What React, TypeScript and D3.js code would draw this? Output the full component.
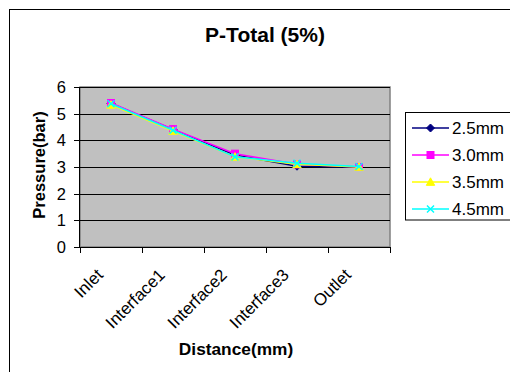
import React from "react";
import * as d3 from "d3";

const categories = ["Inlet", "Interface1", "Interface2", "Interface3", "Outlet"];
const seriesNames = ["2.5mm", "3.0mm", "3.5mm", "4.5mm"];
const s25 = [5.38, 4.4, 3.45, 3.03, 3.0];
const s30 = [5.4, 4.42, 3.5, 3.1, 3.0];
const s35 = [5.33, 4.35, 3.38, 3.1, 3.0];
const s45 = [5.37, 4.38, 3.38, 3.14, 3.02];
const yTicks = [0, 1, 2, 3, 4, 5, 6];

const colors = ["#000080", "#FF00FF", "#FFFF00", "#00FFFF"];
const markerTypes = ["diamond", "square", "triangle", "x"];

const W = 510;
const H = 372;
const plot = { left: 80, right: 390, top: 87, bottom: 247 };
const FONT = "Arial, 'Liberation Sans', Helvetica, sans-serif";

function Marker({ type, x, y, color }: { type: string; x: number; y: number; color: string }) {
  if (type === "diamond") {
    const r = 4;
    return <path d={`M${x},${y - r}L${x + r},${y}L${x},${y + r}L${x - r},${y}Z`} fill={color} stroke={color} strokeWidth={1} />;
  }
  if (type === "square") {
    const r = 3.5;
    return <rect x={x - r} y={y - r} width={2 * r} height={2 * r} fill={color} stroke={color} strokeWidth={1} />;
  }
  if (type === "triangle") {
    const r = 4.2;
    return <path d={`M${x},${y - r}L${x + r},${y + r * 0.8}L${x - r},${y + r * 0.8}Z`} fill={color} stroke={color} strokeWidth={1} />;
  }
  const r = 3.5;
  return (
    <path d={`M${x - r},${y - r}L${x + r},${y + r}M${x + r},${y - r}L${x - r},${y + r}`} stroke={color} strokeWidth={1.5} fill="none" />
  );
}

export default function App() {
  const series = [s25, s30, s35, s45];
  const x = d3.scaleBand<string>().domain(categories).range([plot.left, plot.right]);
  const y = d3.scaleLinear().domain([0, 6]).range([plot.bottom, plot.top]);
  const cx = (c: string) => (x(c) as number) + x.bandwidth() / 2;
  const line = d3
    .line<number>()
    .x((_, i) => cx(categories[i]))
    .y((d) => y(d));

  const edges = categories.map((c) => x(c) as number).concat([plot.right]);

  return (
    <svg width={W} height={H} style={{ position: "absolute", left: 0, top: 0, background: "#fff" }} fontFamily={FONT}>
      <rect x={0} y={0} width={W} height={H} fill="#fff" />
      <rect x={9.5} y={9.5} width={700} height={600} fill="none" stroke="#000" strokeWidth={1} />
      <text x={265} y={42} textAnchor="middle" fontSize={21} fontWeight="bold">
        P-Total (5%)
      </text>

      {/* plot area */}
      <rect x={plot.left} y={plot.top} width={plot.right - plot.left} height={plot.bottom - plot.top} fill="#C0C0C0" stroke="#808080" strokeWidth={1.5} />
      {yTicks.slice(1).map((t) => (
        <line key={t} x1={plot.left} x2={plot.right} y1={Math.round(y(t)) + 0.5} y2={Math.round(y(t)) + 0.5} stroke="#000" strokeWidth={1} />
      ))}

      {/* y axis */}
      <line x1={plot.left - 0.5} x2={plot.left - 0.5} y1={plot.top} y2={plot.bottom} stroke="#000" strokeWidth={1} />
      {yTicks.map((t) => (
        <g key={t}>
          <line x1={plot.left - 6} x2={plot.left} y1={Math.round(y(t)) + 0.5} y2={Math.round(y(t)) + 0.5} stroke="#000" />
          <text x={66} y={y(t) + 6} textAnchor="end" fontSize={16.5}>
            {t}
          </text>
        </g>
      ))}
      <text transform={`translate(45,165) rotate(-90)`} textAnchor="middle" fontSize={16.5} fontWeight="bold">
        Pressure(bar)
      </text>

      {/* x axis */}
      <line x1={plot.left - 6} x2={plot.right} y1={plot.bottom + 0.5} y2={plot.bottom + 0.5} stroke="#000" strokeWidth={1} />
      {edges.map((e, i) => (
        <line key={i} x1={Math.round(e) + 0.5} x2={Math.round(e) + 0.5} y1={plot.bottom} y2={plot.bottom + 6} stroke="#000" />
      ))}
      {categories.map((c) => (
        <text key={c} transform={`translate(${cx(c) - 7},${plot.bottom + 29}) rotate(-45)`} textAnchor="end" fontSize={17}>
          {c}
        </text>
      ))}
      <text x={236} y={355} textAnchor="middle" fontSize={17.3} fontWeight="bold">
        Distance(mm)
      </text>

      {/* series */}
      {series.map((s, si) => (
        <g key={si}>
          <path d={line(s) as string} fill="none" stroke={colors[si]} strokeWidth={1.5} />
          {s.map((v, i) => (
            <Marker key={i} type={markerTypes[si]} x={cx(categories[i])} y={y(v)} color={colors[si]} />
          ))}
        </g>
      ))}

      {/* legend */}
      <rect x={405.5} y={112.5} width={200} height={107.5} fill="#fff" stroke="#000" strokeWidth={1} />
      {seriesNames.map((n, i) => {
        const ly = 128 + i * 27;
        return (
          <g key={n}>
            <line x1={412} x2={449} y1={ly} y2={ly} stroke={colors[i]} strokeWidth={1.5} />
            <Marker type={markerTypes[i]} x={430.5} y={ly} color={colors[i]} />
            <text x={452} y={ly + 6} fontSize={17}>
              {n}
            </text>
          </g>
        );
      })}
    </svg>
  );
}
